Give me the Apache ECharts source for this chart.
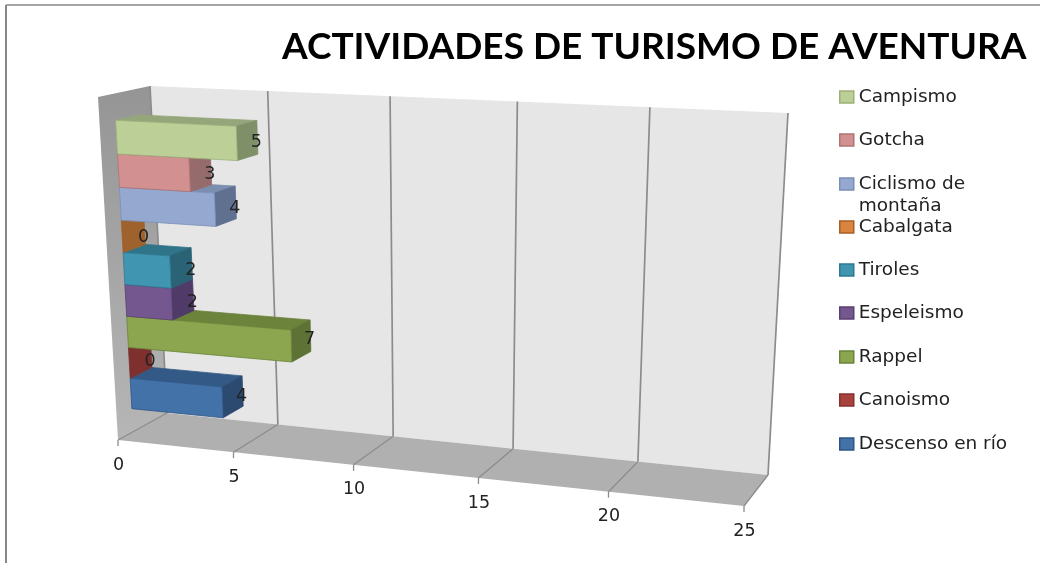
<!DOCTYPE html>
<html>
<head>
<meta charset="utf-8">
<title>Actividades de turismo de aventura</title>
<style>
html, body { margin: 0; padding: 0; background: #fff; }
#chart { width: 1045px; height: 563px; }
</style>
<script src="https://cdn.jsdelivr.net/npm/echarts@6/dist/echarts.min.js"></script>
</head>
<body>
<div id="chart"></div>
<script>
// bottom bar first, the upper bars are painted over the lower ones
var categories = ['Descenso en río', 'Canoismo', 'Rappel', 'Espeleismo', 'Tiroles', 'Cabalgata', 'Ciclismo de montaña', 'Gotcha', 'Campismo'];
var values = [4, 0, 7, 2, 2, 0, 4, 3, 5];
var valueTicks = [0, 5, 10, 15, 20, 25];

// front, top, side, legend border
var colors = [
    ['#4272a8', '#335a87', '#2c4a70', '#2f5587'],
    ['#a8423f', '#86332f', '#7d302e', '#86302d'],
    ['#8ba64e', '#6c833c', '#5e7235', '#6a843a'],
    ['#74578f', '#5c4472', '#4f3a68', '#594073'],
    ['#4095b0', '#2f7488', '#2a6375', '#2f7890'],
    ['#d9853f', '#b56a2c', '#a0622c', '#a85f25'],
    ['#95a9d0', '#7c8eb0', '#5f7090', '#7a8fb8'],
    ['#d29090', '#a87575', '#966b6b', '#b07272'],
    ['#bccf96', '#95a67a', '#7f8f68', '#9cb078']
];

// pixel corners of the 3D box: f/b = front/back, b/t = bottom/top
var box = {
    fb0: [118, 440], fb1: [744, 506],
    ft0: [98, 97], ft1: [763, 127],
    bb0: [167, 413], bb1: [768, 475],
    bt0: [150, 86], bt1: [788, 113]
};
var depthFront = 0.31, depthBack = 0.75;
var heightLow = 0.068, heightHigh = 0.921;

function persp(t, r) {
    return t / (t + (1 - t) * r);
}
function mix(a, b, t) {
    return [a[0] + (b[0] - a[0]) * t, a[1] + (b[1] - a[1]) * t];
}
// s: along the value axis, d: into the depth, h: up the wall
function project(s, d, h) {
    var front = mix(mix(box.fb0, box.fb1, s), mix(box.ft0, box.ft1, s), h);
    var back = mix(mix(box.bb0, box.bb1, s), mix(box.bt0, box.bt1, s), h);
    return mix(front, back, d);
}
function valueFrac(api, params, v) {
    var t = (api.coord([v, 0])[0] - params.coordSys.x) / params.coordSys.width;
    return persp(t, 1.105);
}
function face(points, fill, stroke) {
    return {
        type: 'polygon',
        shape: { points: points },
        style: { fill: fill, stroke: stroke || fill, lineWidth: stroke ? 0.8 : 0 }
    };
}
function line(a, b, color, width) {
    return {
        type: 'line',
        shape: { x1: a[0], y1: a[1], x2: b[0], y2: b[1] },
        style: { stroke: color, lineWidth: width }
    };
}

function renderWalls(params, api) {
    var wallGradient = {
        type: 'linear', x: 0, y: 0, x2: 0, y2: 1,
        colorStops: [{ offset: 0, color: '#959595' }, { offset: 1, color: '#b6b6b6' }]
    };
    return {
        type: 'group',
        children: [
            face([project(0, 0, 1), project(0, 1, 1), project(0, 1, 0), project(0, 0, 0)], wallGradient),
            face([project(0, 1, 1), project(1, 1, 1), project(1, 1, 0), project(0, 1, 0)], '#e6e6e6'),
            face([project(0, 0, 0), project(0, 1, 0), project(1, 1, 0), project(1, 0, 0)], '#b0b0b0')
        ]
    };
}

function renderTick(params, api) {
    var s = valueFrac(api, params, api.value(0));
    var gridColor = '#8c8c8c';
    var foot = project(s, 0, 0);
    return {
        type: 'group',
        children: [
            line(project(s, 1, 1), project(s, 1, 0), gridColor, 1.7),
            line(project(s, 1, 0), foot, gridColor, 1.3),
            line(foot, [foot[0], foot[1] + 6], gridColor, 1.3),
            {
                type: 'text',
                style: {
                    x: foot[0] + 0.5, y: foot[1] + 25,
                    text: String(api.value(0)),
                    fill: '#222', font: '17.5px "DejaVu Sans"', align: 'center', verticalAlign: 'middle'
                }
            }
        ]
    };
}

function makeRenderBar(c) {
    return function (params, api) {
        var v = api.value(0);
        var center = api.coord([0, api.value(1)]);
        var band = api.size([0, 1])[1];
        var sys = params.coordSys;
        // band edges come from the category axis, then get the depth distortion
        var tLow = (sys.y + sys.height - center[1] - band / 2) / sys.height;
        var tHigh = (sys.y + sys.height - center[1] + band / 2) / sys.height;
        var h0 = heightLow + (heightHigh - heightLow) * persp(tLow, 1.06);
        var h1 = heightLow + (heightHigh - heightLow) * persp(tHigh, 1.06);
        var s1 = valueFrac(api, params, v);
        var d0 = depthFront, d1 = depthBack;
        var children = [];
        if (v > 0) {
            children.push(face([project(0, d0, h1), project(0, d1, h1), project(s1, d1, h1), project(s1, d0, h1)], c[1], c[1]));
        }
        children.push(face([project(s1, d0, h1), project(s1, d1, h1), project(s1, d1, h0), project(s1, d0, h0)], c[2], c[2]));
        if (v > 0) {
            children.push(face([project(0, d0, h1), project(s1, d0, h1), project(s1, d0, h0), project(0, d0, h0)], c[0], c[3]));
        }
        // labels sit a little lower on the short bars, the way the original does
        var labelAt = project(s1, d1, (h0 + h1) / 2);
        children.push({
            type: 'text',
            z2: 10,
            style: {
                x: labelAt[0] - 1, y: labelAt[1] + 9 - 0.8 * v,
                text: String(v),
                fill: '#222', font: '17.5px "DejaVu Sans"', align: 'center', verticalAlign: 'middle'
            }
        });
        return { type: 'group', children: children };
    };
}

var series = [
    { type: 'custom', name: 'walls', silent: true, renderItem: renderWalls, data: [[0, 0]], clip: false, z: 1 },
    { type: 'custom', name: 'ticks', silent: true, renderItem: renderTick, data: valueTicks.map(function (t) { return [t, 0]; }), clip: false, z: 2 }
];
categories.forEach(function (name, i) {
    series.push({
        type: 'custom',
        name: name,
        renderItem: makeRenderBar(colors[i]),
        data: [[values[i], i]],
        itemStyle: { color: colors[i][0] },
        clip: false,
        z: 3
    });
});

// one legend block per entry: the long label wraps without moving the rows below it
var legendRowY = [444, 400, 357, 313, 270, 227, 184, 140, 97];
var legends = categories.map(function (name, i) {
    var wrapped = name === 'Ciclismo de montaña';
    return {
        left: 839,
        top: legendRowY[i] - (wrapped ? 33 : 11),
        orient: 'vertical',
        icon: 'rect',
        itemWidth: 14,
        itemHeight: 12,
        itemGap: 0,
        padding: 0,
        selectedMode: false,
        formatter: wrapped ? '\nCiclismo de\nmontaña' : '{name}',
        textStyle: { fontFamily: 'DejaVu Sans', fontSize: 18.5, color: '#222', lineHeight: 22 },
        data: [{
            name: name,
            itemStyle: { color: colors[i][0], borderColor: colors[i][3], borderWidth: 1.5 }
        }]
    };
});

var chart = echarts.init(document.getElementById('chart'));
chart.setOption({
    animation: false,
    backgroundColor: '#fff',
    title: {
        text: 'ACTIVIDADES DE TURISMO DE AVENTURA',
        left: 282,
        top: 29,
        padding: 0,
        textStyle: { fontFamily: 'Lato', fontWeight: 'bold', fontSize: 37, color: '#000' }
    },
    legend: legends,
    grid: { left: 118, top: 97, width: 626, height: 343 },
    xAxis: { type: 'value', min: 0, max: 25, interval: 5, show: false },
    yAxis: { type: 'category', data: categories, show: false },
    series: series,
    graphic: [
        { type: 'line', shape: { x1: 6, y1: 5, x2: 1040, y2: 5 }, style: { stroke: '#888', lineWidth: 1.5 } },
        { type: 'line', shape: { x1: 6, y1: 5, x2: 6, y2: 563 }, style: { stroke: '#888', lineWidth: 2 } }
    ]
});
window.addEventListener('resize', function () {
    chart.resize();
});
</script>
</body>
</html>
